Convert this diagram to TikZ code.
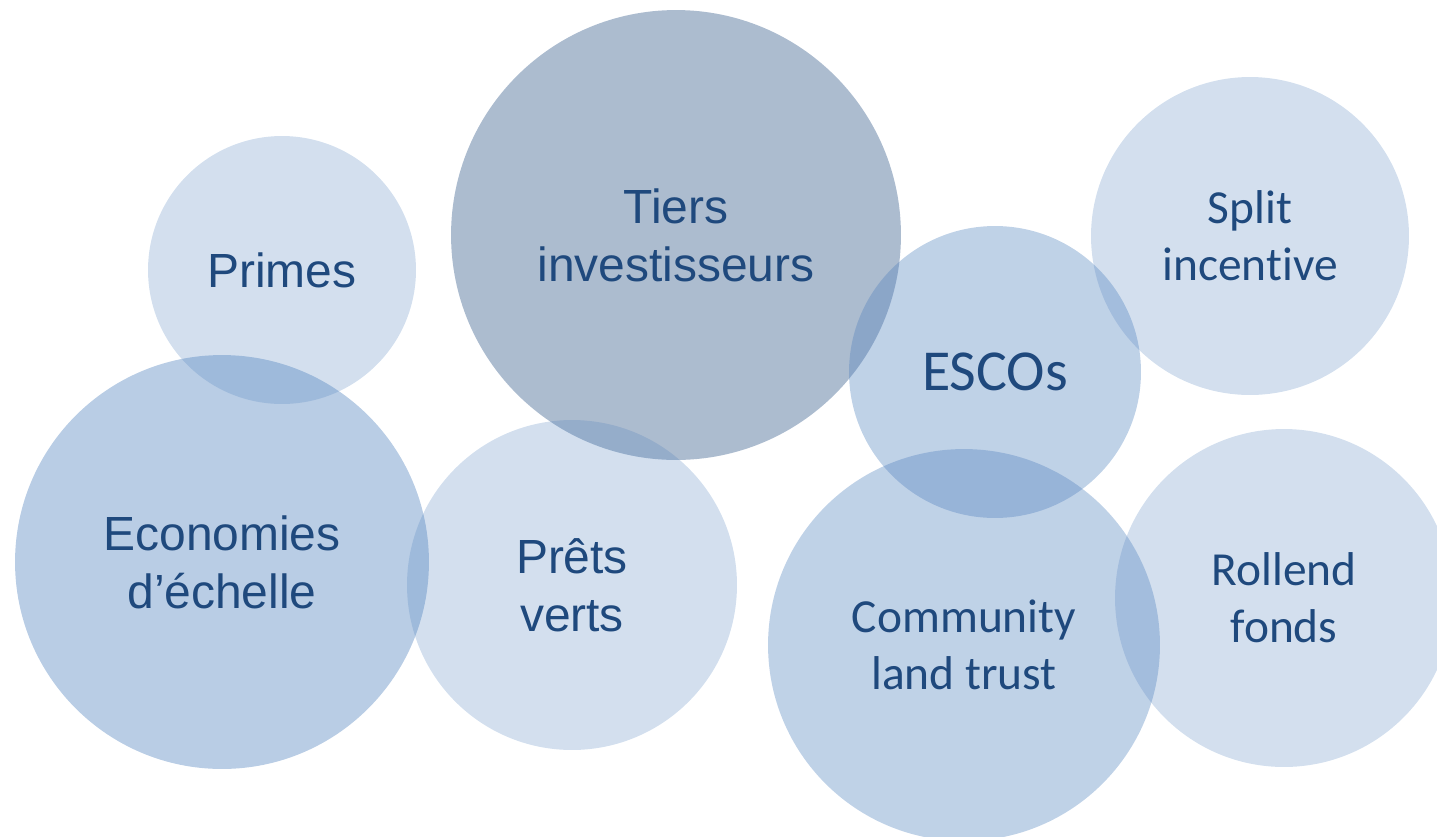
\documentclass[tikz,border=0pt]{standalone}
\usepackage{fontspec}
\usepackage{xcolor}
\usepackage{tikz}
\usetikzlibrary{positioning}
\newfontfamily\arialfont{Liberation Sans}
\newfontfamily\calibrifont[Ligatures=NoCommon]{Carlito}
\definecolor{bubbletext}{HTML}{1F497D}
\definecolor{accentblue}{HTML}{4F81BD}
\definecolor{darkblue}{HTML}{1F497D}
\tikzset{
	bubble/.style={circle, inner sep=0pt, align=center, text=bubbletext, text opacity=1},
	arialtxt/.style={font=\arialfont\fontsize{27.3}{33}\selectfont},
	calibritxt/.style={font=\calibrifont\fontsize{27}{32.4}\selectfont}
}

\begin{document}
\begin{tikzpicture}[
	x=0.02cm, y=-0.02cm,
	% --- Style Definitions ---
	light/.style={bubble, fill=accentblue, fill opacity=0.25},
	medium/.style={bubble, fill=accentblue, fill opacity=0.4},
	soft/.style={bubble, fill=accentblue, fill opacity=0.36},
	dark/.style={bubble, fill=darkblue, fill opacity=0.37},
	]
	
	% --- Canvas ---
	\useasboundingbox (0,0) rectangle (1437,836);
	
	% --- Top Row ---
	\node[light, arialtxt, minimum size=5.36cm] (primes) at (282,270) {Primes};
	\node[dark, arialtxt, minimum size=9.0cm] (tiers) at (676,235) {Tiers\\investisseurs};
	\node[light, calibritxt, minimum size=6.36cm] (split) at (1250,236) {Split\\incentive};
	
	% --- Bottom Row ---
	\node[medium, arialtxt, minimum size=8.28cm] (econ) at (222,562) {Economies\\d’échelle};
	\node[light, arialtxt, minimum size=6.6cm] (prets) at (572,585) {Prêts\\verts};
	\node[light, calibritxt, minimum size=6.76cm] (rollend) at (1284,598) {Rollend\\fonds};
	\node[soft, calibritxt, minimum size=7.84cm] (clt) at (964,645) {Community\\land trust};
	
	% --- Middle ---
	\node[soft, calibritxt, font=\calibrifont\fontsize{33}{38}\selectfont, minimum size=5.84cm] (escos) at (995,372) {ESCOs};
	
\end{tikzpicture}
\end{document}
